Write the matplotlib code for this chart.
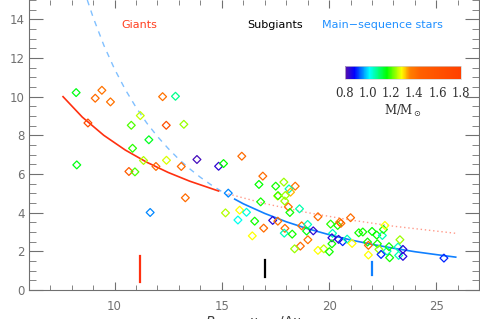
import numpy as np
import matplotlib
matplotlib.use('Agg')
import matplotlib.pyplot as plt
from matplotlib.colors import LinearSegmentedColormap, Normalize
from matplotlib.ticker import MultipleLocator

# stars: x, y, mass (M/Msun)
star_x = [8.21, 9.41, 9.10, 9.81, 8.76, 8.24, 12.24, 12.84, 11.20, 10.78,
          12.41, 13.23, 11.60, 10.84, 11.35, 12.42, 13.84, 11.93, 13.11, 10.67,
          10.95, 13.30, 11.66, 14.85, 15.08, 15.30, 15.17, 15.75, 15.83, 15.93,
          16.91, 16.73, 17.51, 17.89, 18.42, 18.13, 18.20, 17.60, 17.62, 17.96,
          17.93, 16.81, 18.10, 18.17, 18.62, 16.15, 16.53, 17.37, 17.61, 19.48,
          18.72, 19.00, 16.95, 17.94, 18.95, 19.26, 17.91, 18.28, 16.42, 19.01,
          18.66, 18.39, 19.48, 19.75, 20.01, 20.07, 20.40, 20.49, 20.55, 21.00,
          20.16, 20.13, 20.44, 20.63, 20.84, 21.07, 20.13, 21.38, 21.57, 22.00,
          22.22, 22.48, 22.53, 22.60, 21.79, 21.83, 22.25, 22.32, 22.70, 22.79,
          22.42, 22.82, 21.83, 23.21, 23.30, 23.24, 23.44, 23.44, 25.35]
star_y = [10.21, 10.33, 9.92, 9.73, 8.64, 6.47, 10.00, 10.02, 9.02, 8.52,
          8.52, 8.57, 7.77, 7.33, 6.70, 6.71, 6.75, 6.39, 6.39, 6.13,
          6.11, 4.77, 4.01, 6.40, 6.54, 5.01, 3.99, 3.62, 4.13, 6.92,
          5.89, 5.46, 5.37, 5.58, 5.37, 5.23, 5.06, 4.86, 4.88, 4.89,
          4.60, 4.56, 4.30, 4.01, 4.20, 4.02, 3.56, 3.60, 3.56, 3.79,
          3.32, 3.39, 3.20, 3.19, 3.05, 3.06, 2.94, 2.89, 2.80, 2.60,
          2.27, 2.13, 2.05, 2.13, 1.98, 3.41, 3.34, 3.51, 3.45, 3.74,
          2.93, 2.70, 2.62, 2.50, 2.63, 2.41, 2.39, 2.96, 3.00, 3.03,
          2.84, 2.82, 3.13, 3.34, 2.48, 2.31, 2.39, 2.10, 2.01, 2.24,
          1.84, 1.67, 1.81, 2.22, 2.60, 1.79, 2.10, 1.74, 1.65]
star_m = [1.15, 1.40, 1.42, 1.40, 1.65, 1.15, 1.40, 1.08, 1.26, 1.20,
          1.65, 1.24, 1.14, 1.18, 1.25, 1.27, 0.82, 1.42, 1.42, 1.50,
          1.20, 1.42, 0.95, 0.84, 1.16, 0.95, 1.25, 1.02, 1.29, 1.42,
          1.42, 1.16, 1.17, 1.24, 1.40, 1.05, 1.33, 1.28, 1.18, 1.24,
          1.24, 1.17, 1.42, 1.17, 1.06, 1.03, 1.17, 0.85, 1.40, 1.42,
          1.40, 1.05, 1.42, 1.42, 1.15, 0.84, 1.05, 1.17, 1.29, 1.40,
          1.42, 1.24, 1.29, 1.26, 1.17, 1.18, 1.17, 1.40, 1.42, 1.42,
          1.05, 0.85, 0.84, 0.90, 1.05, 1.29, 1.17, 1.17, 1.17, 1.16,
          1.16, 1.05, 1.18, 1.29, 1.17, 1.42, 1.17, 1.24, 1.05, 1.17,
          0.90, 1.17, 1.29, 1.05, 1.24, 1.05, 0.85, 0.85, 0.90]

# giant relation (solid) and its extension (dotted)
giant_x = [7.6, 8.5, 9.5, 10.5, 11.5, 12.5, 13.5, 14.85]
giant_y = [10.0, 8.94, 8.00, 7.24, 6.61, 6.08, 5.63, 5.12]
giant_ext_x = [15.3, 17.0, 19.0, 21.0, 23.0, 26.0]
giant_ext_y = [4.97, 4.47, 4.00, 3.62, 3.30, 2.92]

# main-sequence relation (solid) and its extension (dashed)
ms_x = [15.6, 16.0, 17.0, 18.0, 19.0, 20.0, 21.0, 22.0, 23.0, 24.0, 25.0, 25.9]
ms_y = [4.70, 4.46, 3.96, 3.53, 3.17, 2.86, 2.59, 2.36, 2.16, 1.98, 1.83, 1.70]
ms_ext_x = [8.73, 9.0, 9.5, 10.0, 10.5, 11.0, 11.5, 12.0, 12.5, 13.0, 13.5, 14.0, 14.5, 15.3]
ms_ext_y = [15.0, 14.11, 12.66, 11.43, 10.37, 9.45, 8.64, 7.94, 7.32, 6.76, 6.27, 5.83, 5.44, 4.88]

# boundary markers
mark_x = [11.18, 16.99, 22.01]
mark_lo = [0.43, 0.65, 0.77]
mark_hi = [1.77, 1.55, 1.43]
mark_col = ['#ff3010', 'black', '#1080ff']

groups = ['Giants', 'Subgiants', 'Main\u2212sequence stars']
group_x = [11.17, 17.48, 22.5]
group_col = ['#ff4020', 'black', '#2090ff']

cmap = LinearSegmentedColormap.from_list('mass', [
    (0.0, '#5a10a8'), (0.08, '#0000ff'), (0.21, '#00ffff'), (0.36, '#00ff00'),
    (0.49, '#ffff00'), (0.56, '#ff8000'), (0.65, '#ff6000'), (1.0, '#ff4000')])
norm = Normalize(0.8, 1.8)

fig = plt.figure(figsize=(4.8, 3.19), dpi=100)
ax = fig.add_axes([0.0598, 0.0909, 0.9388, 0.9091])

gray = '#707070'
ax.plot(ms_ext_x, ms_ext_y, color='#80c0ff', lw=1, ls=(0, (4, 4)))
ax.plot(giant_ext_x, giant_ext_y, color='#ff9a8a', lw=1, ls=(0, (1, 2)))
ax.plot(giant_x, giant_y, color='#ff3010', lw=1.2)
ax.plot(ms_x, ms_y, color='#1080ff', lw=1.2)

ax.scatter(star_x, star_y, marker='D', s=16, facecolors='none',
           edgecolors=cmap(norm(np.array(star_m))), linewidths=0.9, zorder=3)

for mx, lo, hi, c in zip(mark_x, mark_lo, mark_hi, mark_col):
    ax.plot([mx, mx], [lo, hi], color=c, lw=1.6)

for g, gx, c in zip(groups, group_x, group_col):
    ax.text(gx, 13.7, g, color=c, fontsize=8, ha='center', va='center')

ax.set_xlim(6, 27)
ax.set_ylim(0, 15)
ax.xaxis.set_major_locator(MultipleLocator(5))
ax.xaxis.set_minor_locator(MultipleLocator(1))
ax.yaxis.set_major_locator(MultipleLocator(2))
ax.yaxis.set_minor_locator(MultipleLocator(0.5))
ax.tick_params(which='both', direction='in', top=True, right=True,
               color=gray, labelcolor=gray, labelsize=8.5)
ax.tick_params(axis='x', which='major', length=6, pad=7)
ax.tick_params(axis='x', which='minor', length=3.5)
ax.tick_params(axis='y', which='major', length=10, pad=3)
ax.tick_params(axis='y', which='minor', length=5)
for s in ax.spines.values():
    s.set_color(gray)
ax.spines['top'].set_visible(False)

ax.set_xlabel(r'$R_{\rm obs}=\nu_{\rm max}/\Delta\nu$', fontsize=10,
              family='DejaVu Serif', color='#404040')
ax.xaxis.set_label_coords(0.5, -0.085)
ax.set_ylabel(r'$\epsilon_{\rm obs}$', fontsize=10, family='DejaVu Serif',
              color='#404040')
ax.yaxis.set_label_coords(-0.075, 0.58)

cax = fig.add_axes([0.7188, 0.7533, 0.241, 0.0398])
sm = matplotlib.cm.ScalarMappable(norm=norm, cmap=cmap)
cb = fig.colorbar(sm, cax=cax, orientation='horizontal',
                  ticks=[0.8, 1.0, 1.2, 1.4, 1.6, 1.8])
cb.outline.set_edgecolor('#d0d0d0')
cb.outline.set_linewidth(0.5)
cax.tick_params(length=0, pad=6, labelsize=8.5, labelcolor='#303030')
for t in cax.get_xticklabels():
    t.set_family('DejaVu Serif')
cax.set_xticklabels(['0.8', '1.0', '1.2', '1.4', '1.6', '1.8'])
cb.set_label(r'M/M$_\odot$', fontsize=8.5, family='DejaVu Serif',
             color='#303030', labelpad=2)

fig.savefig('out.png', dpi=100)
